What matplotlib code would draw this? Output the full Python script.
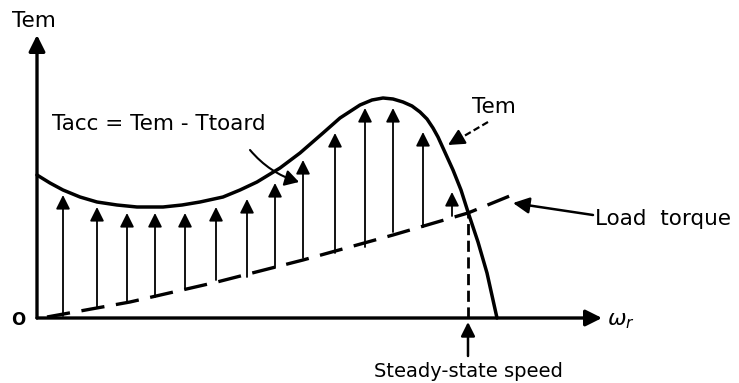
import matplotlib.pyplot as plt

# electromagnetic torque curve (speed, torque)
tem_w = [0, 13, 26, 43, 60, 80, 100, 126, 145, 163, 186, 203, 220, 243, 263,
         286, 303, 323, 335, 346, 356, 366, 375, 383, 390, 396, 401, 406, 411,
         416, 424, 431, 441, 450, 460]
tem_T = [143, 135, 128, 121, 116, 113, 111, 111, 113, 116, 121, 128, 136, 150,
         165, 185, 200, 213, 218, 220, 219, 216, 212, 206, 199, 190, 181, 170,
         159, 148, 128, 106, 76, 45, 0]

# load torque line
load_w = [10, 93, 180, 266, 356, 431, 480]
load_T = [1, 16, 36, 58, 83, 105, 125]

# accelerating torque arrows: position, tip, base
acc_w = [26, 60, 90, 118, 148, 179, 210, 238, 266, 298, 328, 356, 386, 415]
acc_tip = [123, 111, 105, 105, 105, 111, 119, 135, 158, 185, 210, 210, 186, 126]
acc_base = [2, 11, 16, 21, 29, 38, 41, 50, 60, 65, 71, 86, 91, 102]

w_steady = 431
T_steady = 105

fig = plt.figure(figsize=(7.39, 3.83), dpi=100)
ax = fig.add_axes([0, 0, 1, 1])
ax.set_xlim(-37, 702)
ax.set_ylim(-65, 318)
ax.axis('off')

font = dict(family='DejaVu Sans', fontsize=15.5, color='black')

# axes with arrow heads
axis_arrow = dict(arrowstyle='-|>,head_length=0.7,head_width=0.35', lw=2.4,
                  color='black', mutation_scale=14, shrinkA=0, shrinkB=0)
ax.annotate('', xy=(0, 283), xytext=(0, 0), arrowprops=axis_arrow)
ax.annotate('', xy=(565, 0), xytext=(0, 0), arrowprops=axis_arrow)

# torque curve and load line
ax.plot(tem_w, tem_T, color='black', lw=2.5, solid_joinstyle='round',
        solid_capstyle='round')
ax.plot(load_w, load_T, color='black', lw=2.4, linestyle=(0, (7, 3.5)))

# steady-state speed marker
ax.plot([w_steady, w_steady], [0, T_steady], color='black', lw=2.0,
        linestyle=(0, (4, 2)))

# accelerating torque arrows
acc_arrow = dict(arrowstyle='-|>,head_length=0.6,head_width=0.3', lw=1.3,
                 color='black', mutation_scale=14, shrinkA=0, shrinkB=0)
for w, tip, base in zip(acc_w, acc_tip, acc_base):
    ax.annotate('', xy=(w, tip), xytext=(w, base), arrowprops=acc_arrow)

# labels
ax.text(-25, 291, 'Tem', ha='left', va='baseline', **font)
ax.text(-19, -2, 'O', ha='center', va='center', family='DejaVu Sans',
        fontsize=12, fontweight='bold')
ax.text(570, -3, r'$\omega_r$', ha='left', va='center', fontsize=16)

ax.text(15, 188, 'Tacc = Tem - Ttoard', ha='left', va='baseline', **font)
ax.annotate('', xy=(262, 136), xytext=(213, 168),
            arrowprops=dict(arrowstyle='-|>,head_length=0.6,head_width=0.35',
                            lw=1.5, color='black', mutation_scale=14,
                            shrinkA=0, shrinkB=0,
                            connectionstyle='arc3,rad=0.15'))

# dashed leader to the torque curve, solid head
ax.text(435, 205, 'Tem', ha='left', va='baseline', **font)
ax.plot([451, 422], [196, 179], color='black', lw=1.6, linestyle=(0, (3, 1.5)))
ax.annotate('', xy=(411, 173), xytext=(423, 180),
            arrowprops=dict(arrowstyle='-|>,head_length=0.7,head_width=0.35',
                            lw=1.6, color='black', mutation_scale=14,
                            shrinkA=0, shrinkB=0))

ax.text(558, 93, 'Load  torque', ha='left', va='baseline', **font)
ax.annotate('', xy=(476, 115), xytext=(556, 103),
            arrowprops=dict(arrowstyle='-|>,head_length=0.7,head_width=0.35',
                            lw=1.8, color='black', mutation_scale=14,
                            shrinkA=0, shrinkB=0))

ax.annotate('', xy=(w_steady, -4), xytext=(w_steady, -38),
            arrowprops=dict(arrowstyle='-|>,head_length=0.6,head_width=0.3',
                            lw=1.8, color='black', mutation_scale=14,
                            shrinkA=0, shrinkB=0))
ax.text(w_steady, -59, 'Steady-state speed', ha='center', va='baseline',
        family='DejaVu Sans', fontsize=14)

fig.savefig('out.png', dpi=100)
